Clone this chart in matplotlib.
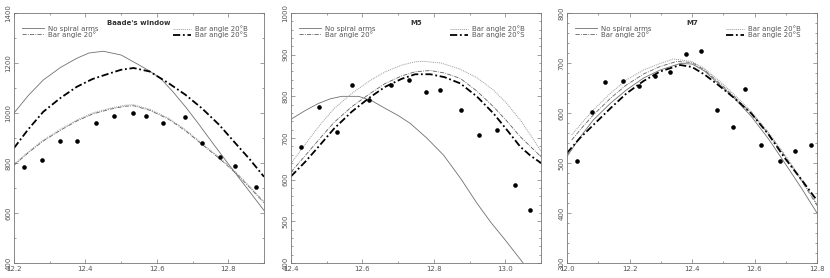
import matplotlib
matplotlib.use("Agg")
import matplotlib.pyplot as plt
from matplotlib.ticker import MultipleLocator

# ---- Baade's window ----
bw_obs_x = [12.228, 12.279, 12.329, 12.377, 12.430, 12.481, 12.532, 12.571, 12.618, 12.678, 12.727, 12.778, 12.818, 12.878]
bw_obs_y = [784, 812, 887, 887, 961, 989, 1000, 989, 959, 983, 881, 823, 789, 703]

bw_none_x = [12.20, 12.24, 12.282, 12.33, 12.376, 12.41, 12.45, 12.50, 12.539, 12.575, 12.61, 12.645, 12.68, 12.715, 12.75, 12.785, 12.82, 12.86, 12.90]
bw_none_y = [1000, 1070, 1132, 1182, 1219, 1240, 1247, 1232, 1201, 1172, 1139, 1085, 1025, 960, 892, 825, 759, 685, 610]
bw_bar_x = [12.20, 12.24, 12.282, 12.33, 12.376, 12.42, 12.469, 12.51, 12.535, 12.58, 12.633, 12.68, 12.726, 12.775, 12.82, 12.86, 12.90]
bw_bar_y = [791, 841, 888, 931, 968, 996, 1015, 1027, 1029, 1011, 975, 929, 875, 818, 761, 702, 641]
bw_barB_x = [12.20, 12.24, 12.282, 12.33, 12.376, 12.42, 12.469, 12.51, 12.535, 12.58, 12.633, 12.68, 12.726, 12.775, 12.82, 12.86, 12.90]
bw_barB_y = [795, 845, 892, 935, 972, 1000, 1019, 1031, 1033, 1015, 979, 933, 879, 822, 765, 706, 645]
bw_barS_x = [12.20, 12.24, 12.282, 12.33, 12.376, 12.42, 12.469, 12.50, 12.535, 12.58, 12.633, 12.68, 12.726, 12.775, 12.82, 12.86, 12.90]
bw_barS_y = [860, 935, 1005, 1060, 1105, 1136, 1159, 1173, 1180, 1166, 1119, 1073, 1019, 952, 879, 815, 745]

# ---- M5 ----
m5_obs_x = [12.428, 12.479, 12.528, 12.570, 12.619, 12.680, 12.729, 12.779, 12.818, 12.877, 12.927, 12.977, 13.028, 13.068]
m5_obs_y = [678, 774, 714, 827, 791, 828, 839, 810, 815, 767, 707, 719, 588, 528]

m5_none_x = [12.40, 12.44, 12.477, 12.51, 12.542, 12.589, 12.625, 12.664, 12.70, 12.734, 12.78, 12.827, 12.875, 12.921, 12.96, 13.00, 13.05]
m5_none_y = [745, 766, 783, 794, 800, 800, 790, 771, 754, 735, 700, 659, 603, 543, 497, 455, 400]
m5_bar_x = [12.40, 12.44, 12.477, 12.52, 12.57, 12.62, 12.664, 12.71, 12.748, 12.79, 12.83, 12.874, 12.92, 12.967, 13.005, 13.042, 13.07, 13.10]
m5_bar_y = [618, 658, 695, 737, 775, 806, 831, 849, 859, 862, 856, 843, 813, 775, 740, 703, 680, 655]
m5_barB_x = [12.40, 12.44, 12.477, 12.52, 12.57, 12.62, 12.664, 12.71, 12.748, 12.771, 12.82, 12.874, 12.92, 12.967, 13.005, 13.042, 13.07, 13.10]
m5_barB_y = [639, 685, 727, 770, 807, 837, 859, 875, 883, 884, 880, 865, 845, 815, 782, 743, 708, 668]
m5_barS_x = [12.40, 12.44, 12.477, 12.52, 12.57, 12.62, 12.664, 12.71, 12.748, 12.79, 12.83, 12.874, 12.92, 12.967, 13.005, 13.042, 13.07, 13.10]
m5_barS_y = [608, 643, 679, 722, 763, 797, 823, 842, 853, 853, 846, 831, 800, 759, 719, 679, 658, 640]

# ---- M7 ----
m7_obs_x = [12.031, 12.081, 12.122, 12.180, 12.230, 12.282, 12.331, 12.381, 12.429, 12.479, 12.530, 12.570, 12.620, 12.680, 12.730, 12.780]
m7_obs_y = [504, 603, 662, 665, 654, 675, 683, 719, 725, 606, 573, 648, 537, 504, 525, 537]

m7_none_x = [12.00, 12.04, 12.084, 12.14, 12.19, 12.245, 12.298, 12.362, 12.40, 12.44, 12.484, 12.535, 12.59, 12.645, 12.698, 12.75, 12.80]
m7_none_y = [513, 550, 586, 620, 646, 670, 686, 699, 698, 684, 659, 630, 593, 548, 499, 450, 400]
m7_bar_x = [12.015, 12.05, 12.084, 12.14, 12.19, 12.245, 12.298, 12.35, 12.40, 12.44, 12.484, 12.535, 12.59, 12.645, 12.698, 12.75, 12.80]
m7_bar_y = [546, 572, 596, 630, 656, 678, 693, 703, 701, 686, 662, 633, 599, 558, 513, 465, 415]
m7_barB_x = [12.015, 12.05, 12.084, 12.14, 12.19, 12.245, 12.298, 12.34, 12.40, 12.44, 12.484, 12.535, 12.59, 12.645, 12.698, 12.75, 12.80]
m7_barB_y = [556, 582, 606, 640, 666, 686, 699, 708, 703, 689, 666, 637, 603, 561, 516, 468, 418]
m7_barS_x = [12.00, 12.04, 12.084, 12.14, 12.19, 12.245, 12.298, 12.362, 12.40, 12.44, 12.484, 12.535, 12.59, 12.645, 12.698, 12.75, 12.80]
m7_barS_y = [520, 549, 576, 610, 639, 664, 683, 696, 692, 677, 656, 630, 599, 557, 509, 467, 425]

labels = ["No spiral arms", "Bar angle 20\u00b0", "Bar angle 20\u00b0B", "Bar angle 20\u00b0S"]
titles = ["Baade's window", "M5", "M7"]

panels = [
    dict(obs=(bw_obs_x, bw_obs_y), curves=[(bw_none_x, bw_none_y), (bw_bar_x, bw_bar_y),
         (bw_barB_x, bw_barB_y), (bw_barS_x, bw_barS_y)],
         xlim=(12.2, 12.9), ylim=(400, 1400), ymaj=200, ymin=100),
    dict(obs=(m5_obs_x, m5_obs_y), curves=[(m5_none_x, m5_none_y), (m5_bar_x, m5_bar_y),
         (m5_barB_x, m5_barB_y), (m5_barS_x, m5_barS_y)],
         xlim=(12.4, 13.1), ylim=(400, 1000), ymaj=100, ymin=20),
    dict(obs=(m7_obs_x, m7_obs_y), curves=[(m7_none_x, m7_none_y), (m7_bar_x, m7_bar_y),
         (m7_barB_x, m7_barB_y), (m7_barS_x, m7_barS_y)],
         xlim=(12.0, 12.8), ylim=(300, 800), ymaj=100, ymin=20),
]

styles = [
    dict(color="#707070", lw=0.6, ls="-"),
    dict(color="#606060", lw=0.6, ls=(0, (5, 1.5, 1, 1.5))),
    dict(color="#9a9a9a", lw=0.7, ls=(0, (1, 1))),
    dict(color="black", lw=1.3, ls=(0, (4, 1.5, 1, 1.5))),
]

gray = "#555555"
plt.rcParams["font.family"] = "DejaVu Sans"
fig = plt.figure(figsize=(8.30, 2.78), dpi=100)

lefts = [14, 291, 567]
for i, p in enumerate(panels):
    ax = fig.add_axes([lefts[i] / 830, 15 / 278, 250 / 830, 250 / 278])
    handles = []
    for (cx, cy), st in zip(p["curves"], styles):
        h, = ax.plot(cx, cy, **st)
        handles.append(h)
    ax.plot(p["obs"][0], p["obs"][1], "o", color="black", ms=3.3, mew=0)

    ax.set_xlim(*p["xlim"])
    ax.set_ylim(*p["ylim"])
    ax.xaxis.set_major_locator(MultipleLocator(0.2))
    ax.xaxis.set_minor_locator(MultipleLocator(0.1))
    ax.yaxis.set_major_locator(MultipleLocator(p["ymaj"]))
    ax.yaxis.set_minor_locator(MultipleLocator(p["ymin"]))
    ax.tick_params(which="both", direction="in", top=True, right=True,
                   color="#777777", width=0.5, labelsize=5, labelcolor=gray)
    ax.tick_params(which="major", length=3, pad=2)
    ax.tick_params(which="minor", length=1.5)
    for lab in ax.get_yticklabels():
        lab.set_rotation(90)
        lab.set_va("center")
    for sp in ax.spines.values():
        sp.set_color("#777777")
        sp.set_linewidth(0.6)

    ax.text(0.5, 0.96, titles[i], transform=ax.transAxes, ha="center", va="center",
            fontsize=5, fontweight="bold", color="#333333")

    leg1 = ax.legend(handles[:2], labels[:2], loc="upper left", bbox_to_anchor=(0.03, 0.95),
                     frameon=False, fontsize=5, handlelength=3.2, handletextpad=0.6,
                     labelspacing=-0.1, borderpad=0, borderaxespad=0, labelcolor=gray)
    ax.add_artist(leg1)
    ax.legend(handles[2:], labels[2:], loc="upper left", bbox_to_anchor=(0.635, 0.95),
              frameon=False, fontsize=5, handlelength=2.6, handletextpad=0.6,
              labelspacing=-0.1, borderpad=0, borderaxespad=0, labelcolor=gray)

fig.savefig("out.png", dpi=100)
